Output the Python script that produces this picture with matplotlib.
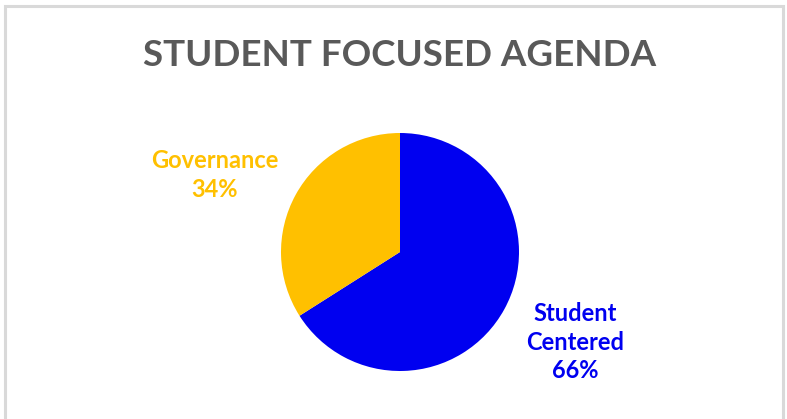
import matplotlib.pyplot as plt
from matplotlib.patches import Rectangle

# data
categories = ["Student\nCentered", "Governance"]
shares = [66, 34]
colors = ["#0000F0", "#FFC000"]

plt.rcParams['font.family'] = ['Lato', 'DejaVu Sans']

fig = plt.figure(figsize=(7.87, 4.19), dpi=100)

# light gray frame round the chart
fig.patches.append(Rectangle((5 / 787, -0.05), 778 / 787, 1.05 - 6 / 419,
                             transform=fig.transFigure, fill=False,
                             edgecolor="#D9D9D9", linewidth=2.2))

fig.text(0.508, 0.868, "STUDENT FOCUSED AGENDA", ha="center", va="center",
         fontsize=26.5, fontweight="bold", color="#595959")

# pie: centre ~ (400, 252) px, radius ~119 px
r = 119
ax = fig.add_axes([(400 - r) / 787, (419 - 252 - r) / 419, 2 * r / 787, 2 * r / 419])
wedges, _ = ax.pie(shares, colors=colors, startangle=90, counterclock=False,
                   wedgeprops=dict(linewidth=0))
ax.set_aspect("equal")
ax.set_xlim(-1, 1)
ax.set_ylim(-1, 1)
ax.axis("off")

# outside labels
label_pos = [(575 / 787, 1 - 342 / 419), (215 / 787, 1 - 175 / 419)]
for name, val, col, (x, y) in zip(categories, shares, colors, label_pos):
    fig.text(x, y, f"{name}\n{val}%", ha="center", va="center", fontsize=17,
             fontweight="bold", color=col, linespacing=1.3)

fig.savefig("out.png", dpi=100)
